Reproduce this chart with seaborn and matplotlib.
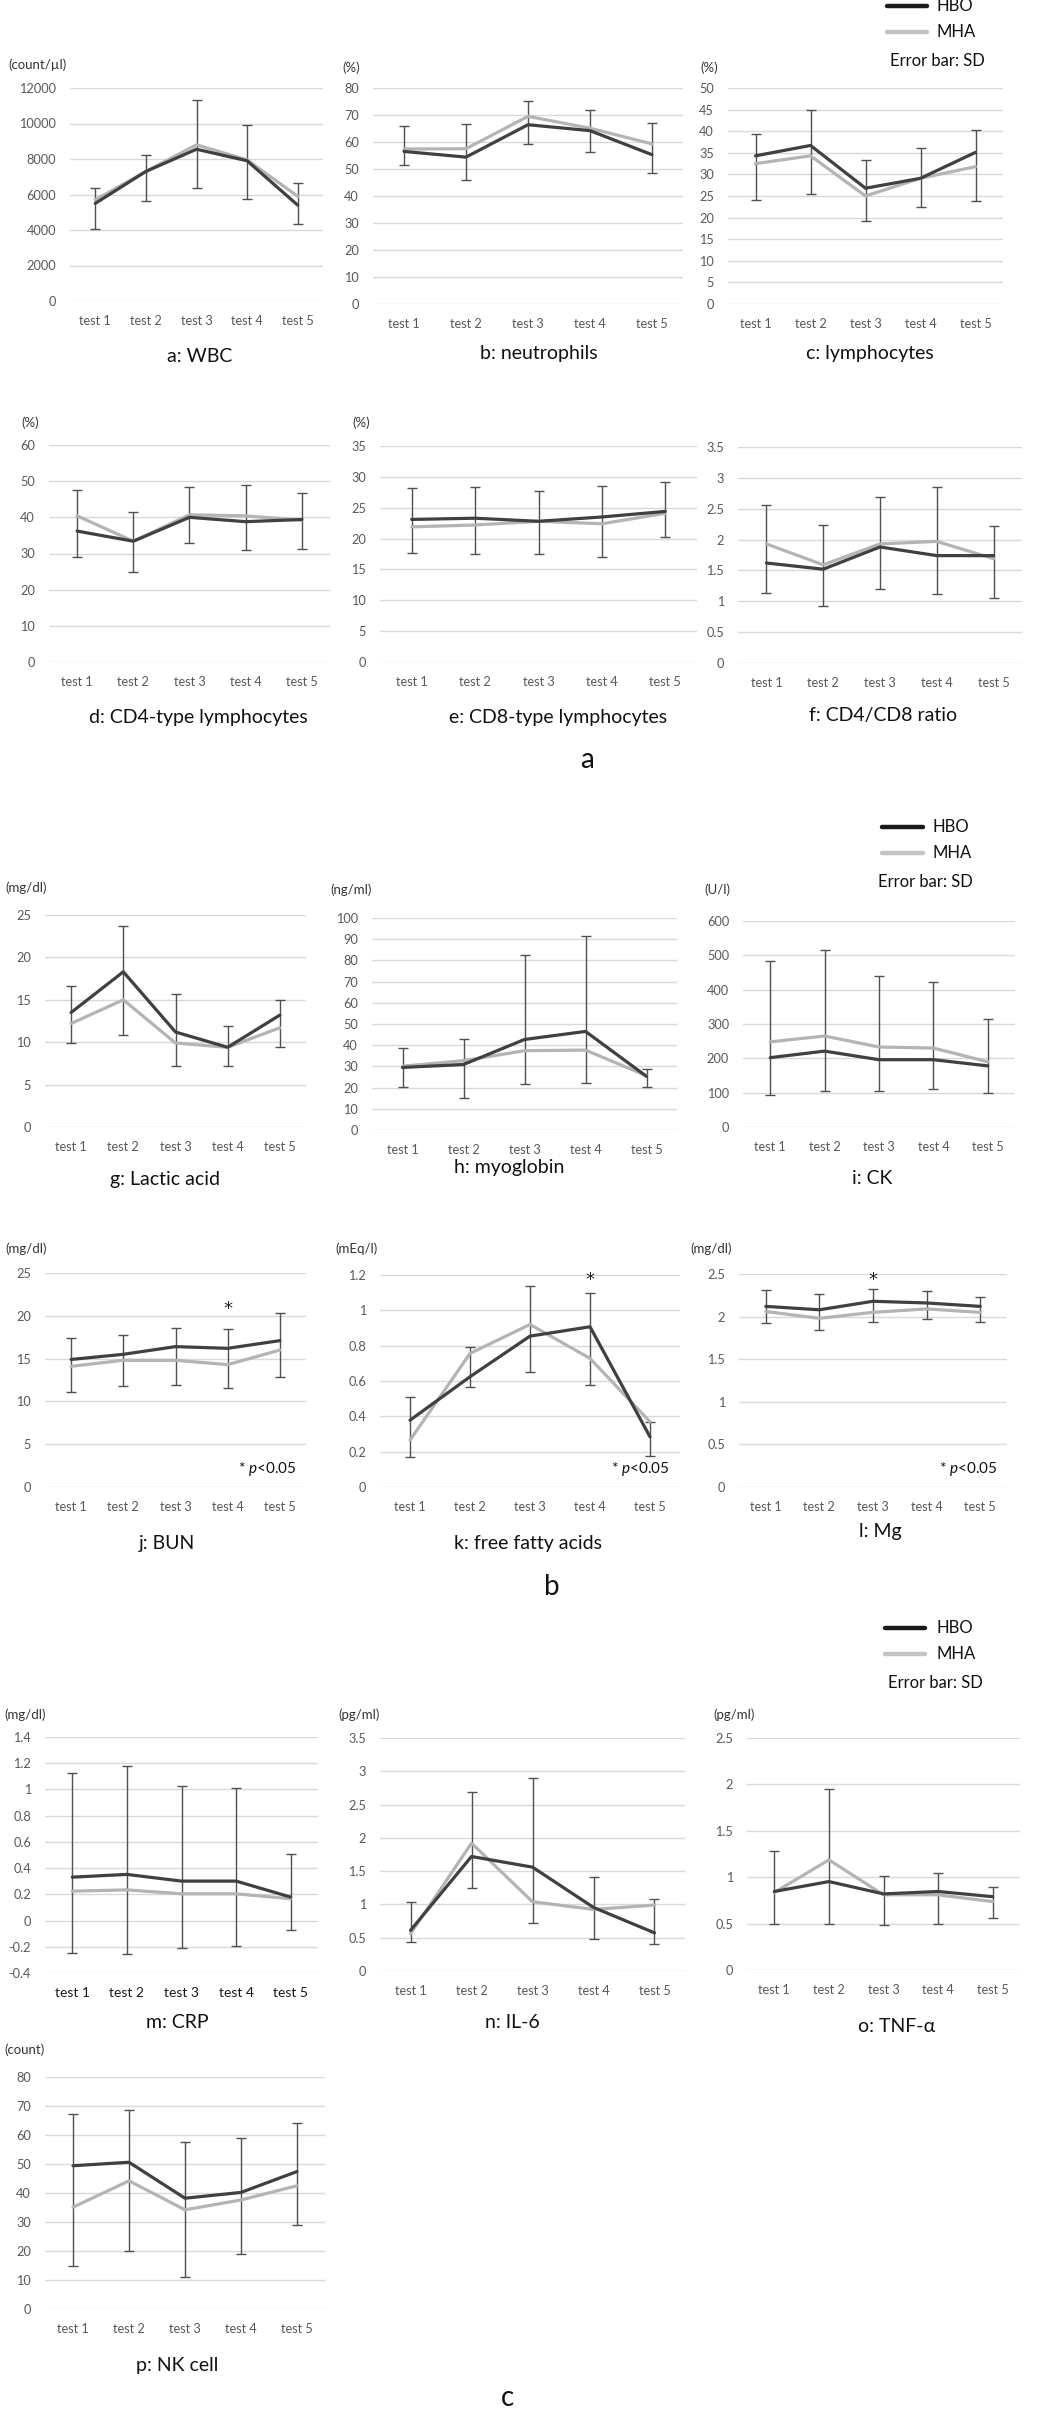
import numpy as np
import pandas as pd
import matplotlib
matplotlib.use("Agg")
import matplotlib.pyplot as plt
from matplotlib.lines import Line2D
import seaborn as sns

# ---------------- data ----------------
tests = ["test 1", "test 2", "test 3", "test 4", "test 5"]

wbc_hbo = [5500, 7300, 8550, 7900, 5400]
wbc_mha = [5700, 7300, 8800, 7950, 5900]
wbc_hi = [6350, 8230, 11330, 9900, 6630]
wbc_lo = [4080, 5640, 6350, 5750, 4360]

neu_hbo = [56.5, 54.4, 66.4, 64.2, 55.3]
neu_mha = [57.4, 57.5, 69.5, 65.1, 59.3]
neu_hi = [65.8, 66.7, 75.2, 71.7, 67.2]
neu_lo = [51.4, 46.0, 59.3, 56.2, 48.7]

lym_hbo = [34.3, 36.7, 26.8, 29.1, 35.1]
lym_mha = [32.5, 34.3, 25.0, 29.1, 31.8]
lym_hi = [39.3, 45.0, 33.4, 36.2, 40.3]
lym_lo = [24.1, 25.5, 19.2, 22.4, 23.9]

cd4_hbo = [36.2, 33.4, 40.0, 38.8, 39.4]
cd4_mha = [40.4, 33.4, 40.7, 40.4, 39.2]
cd4_hi = [47.6, 41.6, 48.3, 49.0, 46.8]
cd4_lo = [29.0, 24.9, 32.9, 31.0, 31.3]

cd8_hbo = [23.1, 23.3, 22.8, 23.5, 24.4]
cd8_mha = [21.9, 22.2, 22.8, 22.4, 24.1]
cd8_hi = [28.2, 28.3, 27.7, 28.5, 29.2]
cd8_lo = [17.7, 17.5, 17.5, 17.0, 20.2]

ratio_hbo = [1.62, 1.52, 1.88, 1.74, 1.74]
ratio_mha = [1.93, 1.59, 1.93, 1.97, 1.69]
ratio_hi = [2.56, 2.23, 2.69, 2.85, 2.22]
ratio_lo = [1.14, 0.93, 1.20, 1.12, 1.06]

lac_hbo = [13.5, 18.3, 11.2, 9.4, 13.2]
lac_mha = [12.2, 15.0, 9.9, 9.4, 11.7]
lac_hi = [16.6, 23.7, 15.7, 11.9, 15.0]
lac_lo = [9.9, 10.9, 7.2, 7.2, 9.4]

myo_hbo = [29.5, 30.9, 42.7, 46.5, 25.3]
myo_mha = [30.1, 32.7, 37.4, 37.7, 25.6]
myo_hi = [38.8, 42.7, 82.7, 91.3, 28.9]
myo_lo = [20.1, 15.2, 21.7, 22.3, 20.1]

ck_hbo = [202, 221, 196, 196, 178]
ck_mha = [248, 265, 233, 230, 190]
ck_hi = [483, 515, 441, 423, 314]
ck_lo = [94, 105, 105, 112, 100]

bun_hbo = [14.9, 15.5, 16.4, 16.2, 17.1]
bun_mha = [14.1, 14.8, 14.8, 14.3, 16.0]
bun_hi = [17.4, 17.8, 18.6, 18.4, 20.3]
bun_lo = [11.1, 11.8, 11.9, 11.6, 12.9]

ffa_hbo = [0.378, 0.624, 0.854, 0.907, 0.284]
ffa_mha = [0.265, 0.756, 0.920, 0.728, 0.369]
ffa_hi = [0.507, 0.794, 1.138, 1.096, 0.369]
ffa_lo = [0.170, 0.567, 0.652, 0.580, 0.174]

mg_hbo = [2.12, 2.08, 2.18, 2.16, 2.12]
mg_mha = [2.06, 1.98, 2.05, 2.09, 2.05]
mg_hi = [2.31, 2.27, 2.32, 2.30, 2.23]
mg_lo = [1.92, 1.84, 1.94, 1.97, 1.94]

crp_hbo = [0.331, 0.352, 0.301, 0.301, 0.179]
crp_mha = [0.224, 0.234, 0.204, 0.204, 0.166]
crp_hi = [1.128, 1.176, 1.029, 1.012, 0.511]
crp_lo = [-0.246, -0.258, -0.210, -0.194, -0.074]

il6_hbo = [0.61, 1.72, 1.56, 0.955, 0.573]
il6_mha = [0.56, 1.92, 1.04, 0.925, 0.99]
il6_hi = [1.04, 2.69, 2.90, 1.417, 1.075]
il6_lo = [0.437, 1.24, 0.724, 0.487, 0.402]

tnf_hbo = [0.846, 0.953, 0.82, 0.846, 0.79]
tnf_mha = [0.835, 1.187, 0.81, 0.81, 0.737]
tnf_hi = [1.277, 1.953, 1.018, 1.043, 0.892]
tnf_lo = [0.496, 0.496, 0.486, 0.496, 0.558]

nk_hbo = [49.4, 50.6, 38.2, 40.2, 47.4]
nk_mha = [35.1, 44.2, 34.2, 37.6, 42.5]
nk_hi = [67.2, 68.6, 57.5, 59.1, 64.0]
nk_lo = [14.7, 20.0, 11.0, 19.0, 29.0]

# significance marks (test index, y position)
bun_star = (3, 20.8)
ffa_star = (3, 1.17)
mg_star = (2, 2.43)

# ---------------- style ----------------
sns.set_theme(style="white")
plt.rcParams["font.family"] = ["Lato", "DejaVu Sans"]
plt.rcParams["mathtext.fontset"] = "custom"
plt.rcParams["mathtext.rm"] = "Lato"
plt.rcParams["mathtext.it"] = "Lato:italic"

W, H = 1055, 2413
fig = plt.figure(figsize=(W / 100, H / 100), dpi=100)
fig.patch.set_facecolor("white")

C_HBO = "#404040"
C_MHA = "#b4b4b4"
GRID = "#d9d9d9"
TICK = "#595959"


def fx(x):
    return x / W


def fy(y):
    return 1 - y / H


def fmt(v):
    return "{:g}".format(round(v, 6))


panels = [
    ("a: WBC", wbc_hbo, wbc_mha, wbc_hi, wbc_lo, 0, 12000, 2000, (70, 323, 88, 301), "(count/µl)", (8, 65), (200, 357)),
    ("b: neutrophils", neu_hbo, neu_mha, neu_hi, neu_lo, 0, 80, 10, (373, 683, 88, 304), "(%)", (342, 68), (539, 353)),
    ("c: lymphocytes", lym_hbo, lym_mha, lym_hi, lym_lo, 0, 50, 5, (728, 1003, 88, 304), "(%)", (700, 68), (870, 353)),
    ("d: CD4-type lymphocytes", cd4_hbo, cd4_mha, cd4_hi, cd4_lo, 0, 60, 10, (49, 330, 445, 662), "(%)", (21, 423), (198, 718)),
    ("e: CD8-type lymphocytes", cd8_hbo, cd8_mha, cd8_hi, cd8_lo, 0, 35, 5, (380, 697, 446, 662), "(%)", (352, 423), (558, 717)),
    ("f: CD4/CD8 ratio", ratio_hbo, ratio_mha, ratio_hi, ratio_lo, 0, 3.5, 0.5, (738, 1022, 447, 663), None, None, (883, 715)),
    ("g: Lactic acid", lac_hbo, lac_mha, lac_hi, lac_lo, 0, 25, 5, (45, 306, 915, 1127), "(mg/dl)", (5, 888), (165, 1180)),
    ("h: myoglobin", myo_hbo, myo_mha, myo_hi, myo_lo, 0, 100, 10, (372, 677, 918, 1130), "(ng/ml)", (330, 890), (509, 1168)),
    ("i: CK", ck_hbo, ck_mha, ck_hi, ck_lo, 0, 600, 100, (743, 1015, 921, 1127), "(U/l)", (704, 890), (872, 1178)),
    ("j: BUN", bun_hbo, bun_mha, bun_hi, bun_lo, 0, 25, 5, (45, 306, 1273, 1487), "(mg/dl)", (5, 1249), (167, 1543)),
    ("k: free fatty acids", ffa_hbo, ffa_mha, ffa_hi, ffa_lo, 0, 1.2, 0.2, (380, 680, 1275, 1487), "(mEq/l)", (335, 1249), (528, 1543)),
    ("l: Mg", mg_hbo, mg_mha, mg_hi, mg_lo, 0, 2.5, 0.5, (739, 1007, 1274, 1487), "(mg/dl)", (690, 1249), (880, 1532)),
    ("m: CRP", crp_hbo, crp_mha, crp_hi, crp_lo, -0.4, 1.4, 0.2, (45, 318, 1737, 1973), "(mg/dl)", (4, 1715), (177, 2023)),
    ("n: IL-6", il6_hbo, il6_mha, il6_hi, il6_lo, 0, 3.5, 0.5, (380, 685, 1738, 1971), "(pg/ml)", (338, 1715), (512, 2022)),
    ("o: TNF-α", tnf_hbo, tnf_mha, tnf_hi, tnf_lo, 0, 2.5, 0.5, (747, 1020, 1738, 1970), "(pg/ml)", (713, 1715), (897, 2027)),
    ("p: NK cell", nk_hbo, nk_mha, nk_hi, nk_lo, 0, 80, 10, (45, 325, 2077, 2309), "(count)", (4, 2050), (177, 2365)),
]

axes = {}
for (title, hbo, mha, hi, lo, ymin, ymax, step, box, unit, upos, tpos) in panels:
    x0, x1, yt, yb = box
    ax = fig.add_axes([fx(x0), fy(yb), (x1 - x0) / W, (yb - yt) / H])
    axes[title[0]] = ax
    n = len(tests)
    df = pd.DataFrame({
        "x": list(range(n)) * 2,
        "value": list(hbo) + list(mha),
        "group": ["HBO"] * n + ["MHA"] * n,
    })
    hi_a = np.array(hi, dtype=float)
    lo_a = np.array(lo, dtype=float)
    ax.errorbar(np.arange(n), (hi_a + lo_a) / 2, yerr=(hi_a - lo_a) / 2, fmt="none",
                ecolor="#505050", elinewidth=1.0, capsize=3.5, capthick=1.0, zorder=2)
    sns.lineplot(data=df, x="x", y="value", hue="group", hue_order=["MHA", "HBO"],
                 palette={"HBO": C_HBO, "MHA": C_MHA}, linewidth=2.3, legend=False,
                 ax=ax, zorder=3)
    ticks = np.arange(ymin, ymax + step / 2, step)
    ax.set_ylim(ymin, ymax)
    ax.set_yticks(ticks)
    ax.set_yticklabels([fmt(t) for t in ticks])
    ax.set_xlim(-0.5, n - 0.5)
    ax.set_xticks(range(n))
    ax.set_xticklabels(tests)
    ax.set_xlabel("")
    ax.set_ylabel("")
    for s in ax.spines.values():
        s.set_visible(False)
    ax.grid(True, axis="y", color=GRID, linewidth=1.0)
    ax.grid(False, axis="x")
    ax.set_axisbelow(True)
    is_m = title.startswith("m")
    xcol = "#1a1a1a" if is_m else TICK
    xsize = 10 if is_m else 9.2
    ax.tick_params(axis="x", length=0, pad=10, labelsize=xsize, labelcolor=xcol)
    ax.tick_params(axis="y", length=0, pad=10, labelsize=9.2, labelcolor=TICK)
    if unit:
        fig.text(fx(upos[0]), fy(upos[1]), unit, fontsize=9.5, color="#333333",
                 ha="left", va="center")
    fig.text(fx(tpos[0]), fy(tpos[1]), title, fontsize=14, color="#111111",
             ha="center", va="center")

# significance stars and notes
for key, star in (("j", bun_star), ("k", ffa_star), ("l", mg_star)):
    ax = axes[key]
    ax.text(star[0], star[1], "*", ha="center", va="center", fontsize=13,
            color="#222222", family="DejaVu Sans")
    ax.text(0.965, 0.085, "* $p$<0.05", transform=ax.transAxes, ha="right",
            va="center", fontsize=11, color="#111111")

# legends
for (lx0, lx1, ly, tx, ey, ex) in [(887, 927, 6, 937, 61, 890),
                                   (882, 923, 827, 933, 882, 878),
                                   (885, 925, 1628, 937, 1683, 888)]:
    for k, (lab, col) in enumerate((("HBO", "#1a1a1a"), ("MHA", "#c4c4c4"))):
        yy = ly + k * 26
        fig.add_artist(Line2D([fx(lx0), fx(lx1)], [fy(yy), fy(yy)], color=col,
                              linewidth=3.2, transform=fig.transFigure))
        fig.text(fx(tx), fy(yy), lab, fontsize=12, color="#111111", ha="left", va="center")
    fig.text(fx(ex), fy(ey), "Error bar: SD", fontsize=12, color="#111111",
             ha="left", va="center")

# figure-part letters
for lab, (px, py) in (("a", (587, 760)), ("b", (552, 1587)), ("c", (507, 2398))):
    fig.text(fx(px), fy(py), lab, fontsize=20, color="#111111", ha="center", va="center")

fig.savefig("out.png", dpi=100, facecolor="white")
